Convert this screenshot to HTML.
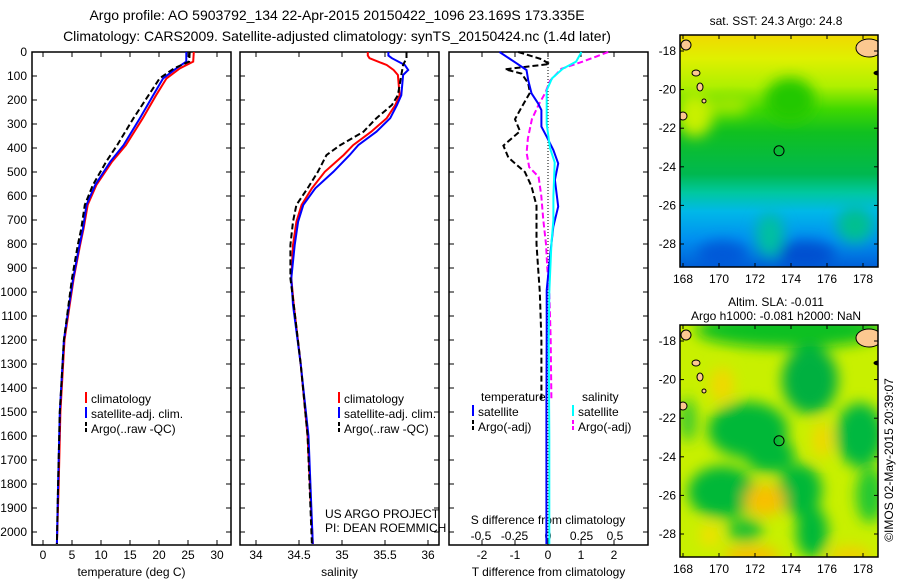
<!DOCTYPE html>
<html><head><meta charset="utf-8"><style>
body{margin:0;background:#fff}
svg{display:block;font-family:"Liberation Sans",sans-serif}
text{font-size:12px;fill:#000}
</style></head><body>
<svg id="c" width="900" height="580" viewBox="0 0 900 580" xmlns="http://www.w3.org/2000/svg">
<defs>
<filter id="bl" x="-50%" y="-50%" width="200%" height="200%"><feGaussianBlur stdDeviation="7"/></filter>
<clipPath id="m1c"><rect x="680" y="35" width="198" height="232"/></clipPath>
<clipPath id="m2c"><rect x="680" y="325" width="198" height="232"/></clipPath>
<linearGradient id="sst" x1="0" y1="0" x2="0" y2="1">
<stop offset="0" stop-color="#f0d800"/><stop offset="0.1" stop-color="#e0f000"/><stop offset="0.22" stop-color="#b0f000"/>
<stop offset="0.32" stop-color="#40d800"/><stop offset="0.42" stop-color="#10c020"/><stop offset="0.6" stop-color="#00b850"/>
<stop offset="0.68" stop-color="#00c8a0"/><stop offset="0.76" stop-color="#00b8e8"/><stop offset="0.88" stop-color="#0090f0"/><stop offset="1" stop-color="#0060d8"/>
</linearGradient>
</defs>
<g>
<text x="337" y="20" text-anchor="middle" style="font-size:14px">Argo profile: AO 5903792_134 22-Apr-2015 20150422_1096 23.169S 173.335E</text>
<text x="337" y="41" text-anchor="middle" style="font-size:14px">Climatology: CARS2009. Satellite-adjusted climatology: synTS_20150424.nc (1.4d later)</text>
</g>
<g id="panels"></g>
<g id="maps"></g>
<text transform="translate(893,460) rotate(-90)" text-anchor="middle">©IMOS 02-May-2015 20:39:07</text>
</svg>
<script>
// ---------- data ----------
const tDepth = [0,40,68,110,180,276,388,457,554,637,735,804,943,1054,1200,1500,1800,2050];
const tClim  = [26.0,25.9,23.6,21.3,19.5,17.2,14.3,11.9,9.2,7.7,7.0,6.4,5.3,4.6,3.7,3.0,2.7,2.4];
const tSat   = [24.7,24.7,23.0,20.7,19.0,16.7,13.9,11.6,9.0,7.5,6.9,6.3,5.2,4.5,3.6,2.9,2.6,2.4];
const tArgo  = [25.3,25.2,22.6,20.1,18.2,15.6,12.8,10.9,8.6,7.2,6.6,6.0,5.0,4.4,3.6,2.9,2.6,2.4];
const sDepth = [0,15,26,54,75,96,180,221,276,332,388,429,499,568,637,707,804,943,1054,1300,1600,2050];
const sClim  = [35.30,35.30,35.32,35.52,35.60,35.65,35.67,35.62,35.52,35.34,35.13,35.02,34.80,34.65,34.53,34.47,34.43,34.41,34.44,34.52,34.60,34.66];
const sSat   = [35.54,35.54,35.58,35.73,35.77,35.71,35.69,35.64,35.56,35.40,35.19,35.09,34.90,34.69,34.55,34.49,34.45,34.41,34.43,34.52,34.61,34.66];
const sArgo  = [35.75,35.75,35.75,35.71,35.70,35.69,35.65,35.58,35.40,35.25,34.98,34.82,34.72,34.60,34.47,34.43,34.40,34.40,34.44,34.52,34.60,34.65];
const dtDepth = [0,47,75,117,172,214,242,311,353,408,464,533,644,728,853,992,1172,1500,2050];
const dtSat   = [-1.47,-0.95,-0.65,-0.6,-0.5,-0.3,-0.2,-0.2,-0.04,0.16,0.31,0.21,0.31,0.16,0.06,-0.04,-0.04,-0.05,-0.05];
const daDepth = [0,30,50,72,90,130,170,230,280,330,390,440,500,560,640,800,900,1000,1200,1450];
const dtArgo  = [-0.9,-0.2,0.05,-1.3,-0.8,-0.6,-0.55,-0.8,-1.0,-0.85,-1.35,-1.2,-0.7,-0.5,-0.35,-0.35,-0.3,-0.25,-0.2,-0.2];
const dsDepth = [0,40,70,120,170,220,280,360,420,480,520,600,700,800,900,1000,1200,1450];
const dsArgo  = [0.45,0.26,0.10,0.015,-0.02,-0.07,-0.12,-0.15,-0.16,-0.14,-0.07,-0.05,-0.035,-0.015,-0.005,0.01,0.02,0.025];
const dcDepth = [0,40,70,110,160,300,400,460,600,700,800,1000,1200,1600,2050];
const dsSat   = [0.25,0.21,0.11,0.03,-0.01,-0.01,0.015,0.05,0.04,0.04,0.025,0.01,0.005,0.01,0.01];
const depthTicks = [0,100,200,300,400,500,600,700,800,900,1000,1100,1200,1300,1400,1500,1600,1700,1800,1900,2000];
const tTicks = [0,5,10,15,20,25,30];
const sTicks = [34,34.5,35,35.5,36];
const dtTicks = [-2,-1,0,1,2];
const dsTicks = [-0.5,-0.25,0,0.25,0.5];
const lonTicks = [168,170,172,174,176,178];
const latTicks = [-18,-20,-22,-24,-26,-28];

const NS="http://www.w3.org/2000/svg";
function mk(tag,attrs,parent){const e=document.createElementNS(NS,tag);for(const k in attrs)e.setAttribute(k,attrs[k]);parent.appendChild(e);return e;}
const yD = d => 52 + 0.24*d;
const TOP=52, BOT=545;
const P = document.getElementById('panels');

function panel(name,x0,x1,xf,ticks,labels,xlabel){
  const g=mk('g',{},P);
  
  
  const r=mk('rect',{x:x0,y:TOP,width:x1-x0,height:BOT-TOP,fill:'none',stroke:'#000','stroke-width':1.5},g);
  
  
  depthTicks.forEach(d=>{
    mk('line',{x1:x0,x2:x0+5,y1:yD(d),y2:yD(d),stroke:'#000'},g);
    mk('line',{x1:x1-5,x2:x1,y1:yD(d),y2:yD(d),stroke:'#000'},g);
  });
  ticks.forEach(v=>{
    const x=xf(v);
    mk('line',{x1:x,x2:x,y1:TOP,y2:TOP+5,stroke:'#000'},g);
    mk('line',{x1:x,x2:x,y1:BOT-5,y2:BOT,stroke:'#000'},g);
    if(labels){const t=mk('text',{x:x,y:559,'text-anchor':'middle'},g);t.textContent=v;
      
      }
  });
  const xl=mk('text',{x:(x0+x1)/2,y:576,'text-anchor':'middle'},g);xl.textContent=xlabel;
  
  
  return g;
}
function line(g,name,xs,ds,xf,color,dash,w){
  const pts=xs.map((v,i)=>xf(v).toFixed(1)+','+yD(ds[i]).toFixed(1)).join(' ');
  const p=mk('polyline',{points:pts,fill:'none',stroke:color,'stroke-width':w||2,'stroke-dasharray':dash||'none'},g);
  
  
}
function legend(g,x,y,color,dash,label){
  mk('line',{x1:x,x2:x,y1:y-11,y2:y,stroke:color,'stroke-width':2,'stroke-dasharray':dash||'none'},g);
  const t=mk('text',{x:x+5,y:y},g);t.textContent=label;
  
  
}
depthTicks.forEach(d=>{const t=mk('text',{x:27,y:yD(d)+4,'text-anchor':'end'},P);t.textContent=d;
  
  });

const xT=v=>43+5.8*v;
const g1=panel('temperature-panel',32,231,xT,tTicks,true,'temperature (deg C)');
line(g1,'temperature-climatology',tClim,tDepth,xT,'#f00');
line(g1,'temperature-satellite',tSat,tDepth,xT,'#00f');
line(g1,'temperature-argo',tArgo,tDepth,xT,'#000','6,3');
legend(g1,86,403,'#f00','','climatology');
legend(g1,86,418,'#00f','','satellite-adj. clim.');
legend(g1,86,433,'#000','4,2','Argo(..raw -QC)');

const xS=v=>256+86*(v-34);
const g2=panel('salinity-panel',240,439,xS,sTicks,true,'salinity');
line(g2,'salinity-climatology',sClim,sDepth,xS,'#f00');
line(g2,'salinity-satellite',sSat,sDepth,xS,'#00f');
line(g2,'salinity-argo',sArgo,sDepth,xS,'#000','6,3');
legend(g2,339,403,'#f00','','climatology');
legend(g2,339,418,'#00f','','satellite-adj. clim.');
legend(g2,339,433,'#000','4,2','Argo(..raw -QC)');
[['US ARGO PROJECT',518],['PI: DEAN ROEMMICH',532]].forEach(([s,y])=>{const t=mk('text',{x:325,y:y},g2);t.textContent=s;
  
  });

const xDT=v=>548+33*v;
const xDS=v=>548+134*v;
const g3=panel('difference-panel',449,648,xDT,dtTicks,true,'T difference from climatology');
dsTicks.forEach(v=>{const t=mk('text',{x:xDS(v),y:540,'text-anchor':'middle'},g3);t.textContent=v;
  
  });
const st=mk('text',{x:548,y:524,'text-anchor':'middle'},g3);st.textContent='S difference from climatology';


mk('line',{x1:548,x2:548,y1:TOP,y2:BOT,stroke:'#000','stroke-dasharray':'1,2'},g3);
line(g3,'t-diff-argo',dtArgo,daDepth,xDT,'#000','6,3');
line(g3,'s-diff-argo',dsArgo,dsDepth,xDS,'#f0f','6,3');
line(g3,'t-diff-satellite',dtSat,dtDepth,xDT,'#00f');
line(g3,'s-diff-satellite',dsSat,dcDepth,xDS,'#0ff');
[['temperature',481,401],['salinity',582,401]].forEach(([s,x,y])=>{const t=mk('text',{x:x,y:y},g3);t.textContent=s;
  
  });
legend(g3,473,416,'#00f','','satellite');
legend(g3,473,431,'#000','4,2','Argo(-adj)');
legend(g3,573,416,'#0ff','','satellite');
legend(g3,573,431,'#f0f','4,2','Argo(-adj)');

// ---------- maps ----------
const M=document.getElementById('maps');
const lonX=l=>683+18*(l-168);
function map(name,top,latY,clip,fill,titleLines){
  const g=mk('g',{},M);
  
  
  const inner=mk('g',{'clip-path':'url(#'+clip+')'},g);
  fill(inner);
  [[686,45,5,5],[696,73,4,3],[700,87,3,4],[704,101,2,2],[683,116,4,4],[869,48,13,9],[879,73,5,2]].forEach(([x,y,rx,ry],i)=>{
    mk('ellipse',{cx:x,cy:y+(top-35),rx:rx,ry:ry,fill:i==6?'#000':'#fcc890',stroke:'#000','stroke-width':1},inner);
  });
  mk('circle',{cx:lonX(173.335),cy:latY(-23.169),r:5,fill:'none',stroke:'#000'},inner);
  const fr=mk('rect',{x:680,y:top,width:198,height:232,fill:'none',stroke:'#000','stroke-width':1.5},g);
  
  
  lonTicks.forEach(l=>{const x=lonX(l);
    mk('line',{x1:x,x2:x,y1:top,y2:top+4,stroke:'#000'},g);
    mk('line',{x1:x,x2:x,y1:top+228,y2:top+232,stroke:'#000'},g);
    const t=mk('text',{x:x,y:top+248,'text-anchor':'middle'},g);t.textContent=l;
    
    });
  latTicks.forEach(l=>{const y=latY(l);
    mk('line',{x1:680,x2:684,y1:y,y2:y,stroke:'#000'},g);
    mk('line',{x1:874,x2:878,y1:y,y2:y,stroke:'#000'},g);
    const t=mk('text',{x:676,y:y+4,'text-anchor':'end'},g);t.textContent=l;
    
    });
  titleLines.forEach(([s,y])=>{const t=mk('text',{x:776,y:y,'text-anchor':'middle'},g);t.textContent=s;
    
    });
}
map('sst-map',35,l=>51+19.3*(-18-l),'m1c',g=>{
  mk('rect',{x:680,y:35,width:198,height:232,fill:'url(#sst)'},g);
  const b=mk('g',{filter:'url(#bl)'},g);
  mk('ellipse',{cx:790,cy:100,rx:25,ry:22,fill:'#20c800'},b);
  mk('ellipse',{cx:695,cy:115,rx:18,ry:22,fill:'#c8f000'},b);
  mk('ellipse',{cx:730,cy:105,rx:20,ry:10,fill:'#a0e800'},b);
  mk('ellipse',{cx:805,cy:255,rx:30,ry:14,fill:'#0050d0'},b);
  mk('ellipse',{cx:722,cy:255,rx:25,ry:14,fill:'#0058d8'},b);
  mk('ellipse',{cx:770,cy:235,rx:14,ry:22,fill:'#00c0a0'},b);
  mk('ellipse',{cx:855,cy:225,rx:18,ry:18,fill:'#00c090'},b);
},[['sat. SST: 24.3 Argo: 24.8',25]]);
map('sla-map',325,l=>341+19.3*(-18-l),'m2c',g=>{
  mk('rect',{x:680,y:325,width:198,height:232,fill:'#c8f000'},g);
  const b=mk('g',{filter:'url(#bl)'},g);
  [[790,330,95,18,'#10c020'],[810,380,28,34,'#00b040'],[748,430,40,28,'#00b838'],[770,455,25,18,'#00b838'],
   [860,435,24,32,'#00b840'],[722,492,34,26,'#00b838'],[800,490,22,26,'#00b838'],[812,532,16,26,'#00b838'],
   [745,530,18,12,'#20c030'],[870,495,14,28,'#20c830'],[688,420,8,22,'#30c830']].forEach(([x,y,rx,ry,c])=>mk('ellipse',{cx:x,cy:y,rx:rx,ry:ry,fill:c},b));
  [[765,500,20,16,'#f8c000'],[722,385,12,18,'#f0d800'],[752,556,28,10,'#f8c000'],[850,556,22,10,'#f0d000'],[822,440,10,18,'#f0d800'],[710,535,10,12,'#f0e000']].forEach(([x,y,rx,ry,c])=>mk('ellipse',{cx:x,cy:y,rx:rx,ry:ry,fill:c},b));
},[['Altim. SLA: -0.011',306],['Argo h1000: -0.081 h2000: NaN',320]]);
</script>
</body></html>
